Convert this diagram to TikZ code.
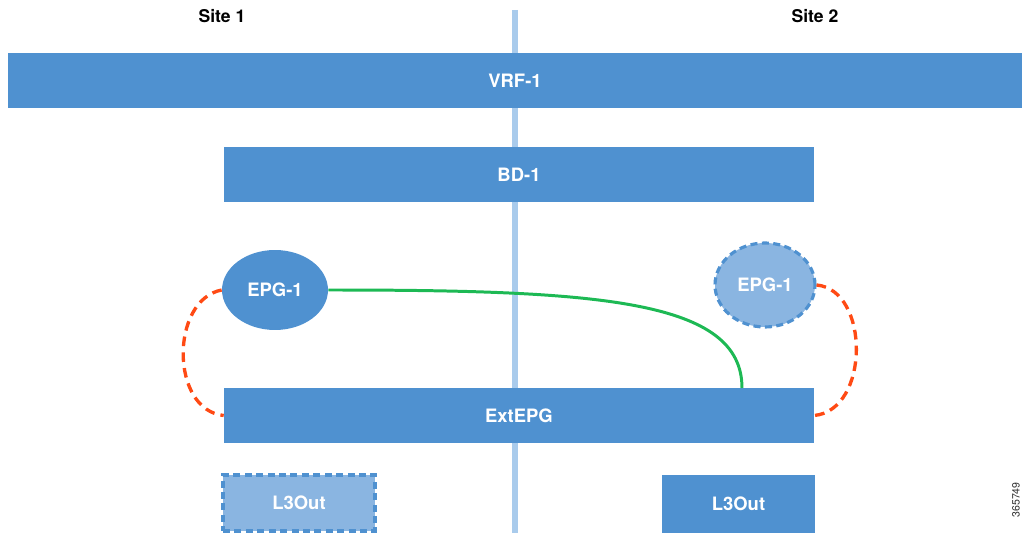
\documentclass[tikz,border=0pt]{standalone}
\usepackage{fontspec}
\setmainfont{TeX Gyre Heros}
\usepackage{tikz}
\usetikzlibrary{shapes.geometric}

\definecolor{ciscoblue}{HTML}{4F91D0}
\definecolor{paleblue}{HTML}{8AB5E1}
\definecolor{lineblue}{HTML}{A9CBEC}
\definecolor{linkgreen}{HTML}{1DB954}
\definecolor{linkred}{HTML}{FF4A14}

\begin{document}
\begin{tikzpicture}[x=0.02cm,y=-0.02cm,
  bar/.style={fill=ciscoblue,text=white,font=\fontsize{10.5}{12}\selectfont\bfseries,inner sep=0pt,minimum height=1.1cm},
  epg/.style={ellipse,fill=ciscoblue,text=white,font=\fontsize{10.5}{12}\selectfont\bfseries,inner sep=0pt},
  ghost/.style={fill=paleblue,draw=ciscoblue,line width=1.8pt,dash pattern=on 4pt off 2.5pt},
  sitelabel/.style={font=\fontsize{10}{12}\selectfont\bfseries,inner sep=0pt},
  stretch/.style={draw=linkred,line width=1.9pt,dash pattern=on 5.5pt off 3.5pt}]
\useasboundingbox (0,0) rectangle (1022,533);
% site split
\draw [lineblue,line width=3.4pt] (515,10) -- (515,533);
\node [sitelabel] (site1) at (222,16) {Site 1};
\node [sitelabel] (site2) at (815,16) {Site 2};
% tenant objects
\node [bar,minimum width=20.28cm] (vrf) at (515,80.5) {VRF-1};
\node [bar,minimum width=11.8cm] (bd) at (519,174.5) {BD-1};
\node [bar,minimum width=11.8cm] (ext) at (519,415.5) {ExtEPG};
\node [epg,minimum width=2.12cm,minimum height=1.6cm] (epgL) at (275,290) {EPG-1};
\node [epg,ghost,text=white,minimum width=2.0cm,minimum height=1.68cm] (epgR) at (765,285) {EPG-1};
\node [bar,ghost,text=white,minimum width=3.04cm,minimum height=1.12cm] (l3outL) at (299,503) {L3Out};
\node [bar,minimum width=3.06cm,minimum height=1.16cm] (l3outR) at (738.5,504) {L3Out};
% links
\coordinate (gEnd) at (742,388);
\draw [linkgreen,line width=1.7pt] (epgL.east) .. controls (600,290) and (742,300) .. (gEnd);
\draw [stretch] (epgL.west) .. controls (170,300) and (170,410) .. (ext.west);
\draw [stretch] (epgR.east) .. controls (870,290) and (870,410) .. (ext.east);
\node [rotate=90,anchor=south,font=\fontsize{6}{7}\selectfont,text=black!80,inner sep=0.5pt] (figno) at (1021,500) {365749};
\end{tikzpicture}
\end{document}
